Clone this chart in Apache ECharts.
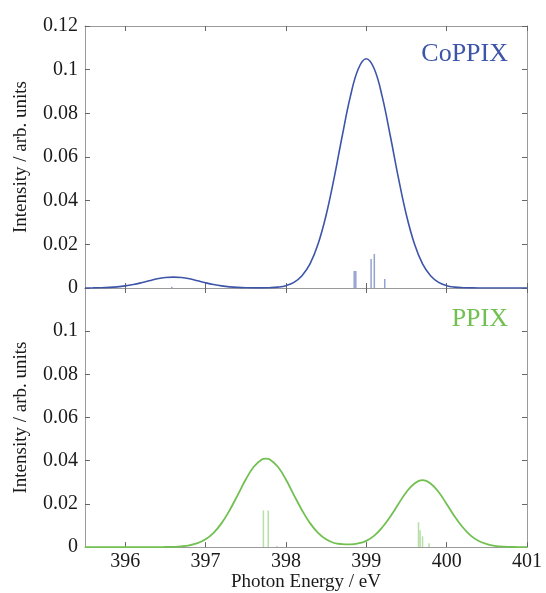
<!DOCTYPE html>
<html>
<head>
<meta charset="utf-8">
<script src="https://cdn.jsdelivr.net/npm/echarts@6/dist/echarts.min.js"></script>
<style>html,body{margin:0;padding:0;background:#fff}#c{width:546px;height:593px}</style>
</head>
<body>
<div id="c"></div>
<script>
// ---- data ----
var energyGridTop = [395.5,395.6,395.7,395.8,395.9,396.0,396.1,396.2,396.3,396.4,396.5,396.6,396.7,396.8,396.9,397.0,397.1,397.2,397.3,397.4,397.5,397.6,397.7,397.8,397.9,398.0,398.1,398.2,398.3,398.4,398.5,398.6,398.7,398.8,398.9,399.0,399.1,399.2,399.3,399.4,399.5,399.6,399.7,399.8,399.9,400.0,400.1,400.2,400.3,400.4,400.5,400.6,400.7,400.8,400.9,401.0];
var coppixIntensity = [0,0.00005,0.00012,0.00027,0.00053,0.00096,0.0016,0.0024,0.0033,0.0042,0.0048,0.0050,0.0048,0.0042,0.0033,0.0024,0.0016,0.00096,0.00053,0.00027,0.00012,0.00006,0.00007,0.00014,0.00041,0.00106,0.00255,0.0056,0.0110,0.0201,0.0333,0.0504,0.0695,0.0874,0.1003,0.1050,0.1003,0.0874,0.0695,0.0504,0.0333,0.0201,0.0110,0.0056,0.00255,0.00106,0.00041,0.00014,0.00005,0,0,0,0,0,0,0];
var energyGridBottom = [395.5,395.6,395.7,395.8,395.9,396.0,396.1,396.2,396.3,396.4,396.5,396.6,396.7,396.8,396.9,397.0,397.1,397.2,397.3,397.4,397.5,397.6,397.7,397.75,397.8,397.9,398.0,398.1,398.2,398.3,398.4,398.5,398.6,398.7,398.8,398.9,399.0,399.1,399.2,399.3,399.4,399.5,399.6,399.7,399.8,399.9,400.0,400.1,400.2,400.3,400.4,400.5,400.6,400.7,400.8,400.9,401.0];
var ppixIntensity = [0,0,0,0,0,0,0,0,0,0,0.00005,0.00013,0.00035,0.00083,0.0018,0.0036,0.0066,0.0111,0.0171,0.0241,0.0313,0.0372,0.0406,0.0410,0.0406,0.0372,0.0313,0.0241,0.0171,0.0111,0.0066,0.0036,0.0019,0.0014,0.0013,0.0017,0.0029,0.0053,0.0092,0.0142,0.0200,0.0255,0.0295,0.0310,0.0295,0.0255,0.0200,0.0142,0.0092,0.0053,0.0028,0.0014,0.0006,0.0002,0.0001,0,0];
var coppixStickEnergy = [396.58,398.85,398.87,399.06,399.10,399.23];
var coppixStickIntensity = [0.0006,0.0078,0.0078,0.0133,0.0156,0.0041];
var ppixStickEnergy = [397.72,397.78,397.89,399.65,399.67,399.70,399.78];
var ppixStickIntensity = [0.017,0.017,0.0005,0.0115,0.0078,0.005,0.0018];
var xTickValues = [396,397,398,399,400,401];
var yTickLabels = ['0','0.02','0.04','0.06','0.08','0.1','0.12'];

function zip(a,b){return a.map(function(v,i){return [v,b[i]];});}

var FONT = 'Liberation Serif';
var AX = '#9a9a9a';
var TXT = '#1a1a1a';
var BLUE = '#3d55a8', GREEN = '#72c052';

function xAx(gi, pos, labels){
  return {type:'value', gridIndex:gi, position:pos, min:395.5, max:401, interval:1,
    axisLine:{show:true, onZero:false, lineStyle:{color:AX, width:1}},
    axisTick:{show:true, inside:true, length:5, lineStyle:{color:'#666'},
      customValues: xTickValues},
    axisLabel:{show:labels, color:TXT, fontFamily:FONT, fontSize:20, margin:5,
      customValues: xTickValues},
    splitLine:{show:false},
    name: labels ? 'Photon Energy / eV' : '', nameLocation:'middle', nameGap:25,
    nameTextStyle:{color:TXT, fontFamily:FONT, fontSize:19}};
}
function yAx(gi, pos, labels, showMax){
  return {type:'value', gridIndex:gi, position:pos, min:0, max:0.12, interval:0.02,
    axisLine:{show:true, lineStyle:{color:AX, width:1}},
    axisTick:{show:true, inside:true, length:5, lineStyle:{color:'#666'}},
    axisLabel:{show:labels, color:TXT, fontFamily:FONT, fontSize:20, margin:7,
      showMaxLabel: showMax,
      formatter:function(v){ return yTickLabels[Math.round(v/0.02)]; }},
    splitLine:{show:false},
    name: labels ? 'Intensity / arb. units' : '', nameLocation:'middle', nameGap:54,
    nameTextStyle:{color:TXT, fontFamily:FONT, fontSize:19}};
}

var chart = echarts.init(document.getElementById('c'));
chart.setOption({
  animation:false,
  backgroundColor:'#fff',
  title:[
    {text:'CoPPIX', right:33, top:36, textStyle:{color:BLUE, fontFamily:FONT, fontSize:26, fontWeight:'normal'}},
    {text:'PPIX', right:33, top:301, textStyle:{color:GREEN, fontFamily:FONT, fontSize:26, fontWeight:'normal'}}
  ],
  grid:[
    {left:85, right:19, top:26, height:262},
    {left:85, right:19, top:288, height:261}
  ],
  xAxis:[ xAx(0,'bottom',false), xAx(0,'top',false), xAx(1,'bottom',true), xAx(1,'top',false) ],
  yAxis:[ yAx(0,'left',true,true), yAx(0,'right',false,true), yAx(1,'left',true,false), yAx(1,'right',false,false) ],
  series:[
    {type:'bar', xAxisIndex:0, yAxisIndex:0, barWidth:1.5, barGap:'-100%',
      itemStyle:{color:'rgba(61,85,168,0.55)'}, data: zip(coppixStickEnergy, coppixStickIntensity)},
    {type:'line', xAxisIndex:0, yAxisIndex:0, smooth:0.4, showSymbol:false, symbol:'none',
      lineStyle:{color:BLUE, width:1.6}, data: zip(energyGridTop, coppixIntensity)},
    {type:'bar', xAxisIndex:2, yAxisIndex:2, barWidth:1.5, barGap:'-100%',
      itemStyle:{color:'rgba(114,192,82,0.5)'}, data: zip(ppixStickEnergy, ppixStickIntensity)},
    {type:'line', xAxisIndex:2, yAxisIndex:2, smooth:0.4, showSymbol:false, symbol:'none',
      lineStyle:{color:GREEN, width:1.8}, data: zip(energyGridBottom, ppixIntensity)}
  ]
});
</script>
</body>
</html>
